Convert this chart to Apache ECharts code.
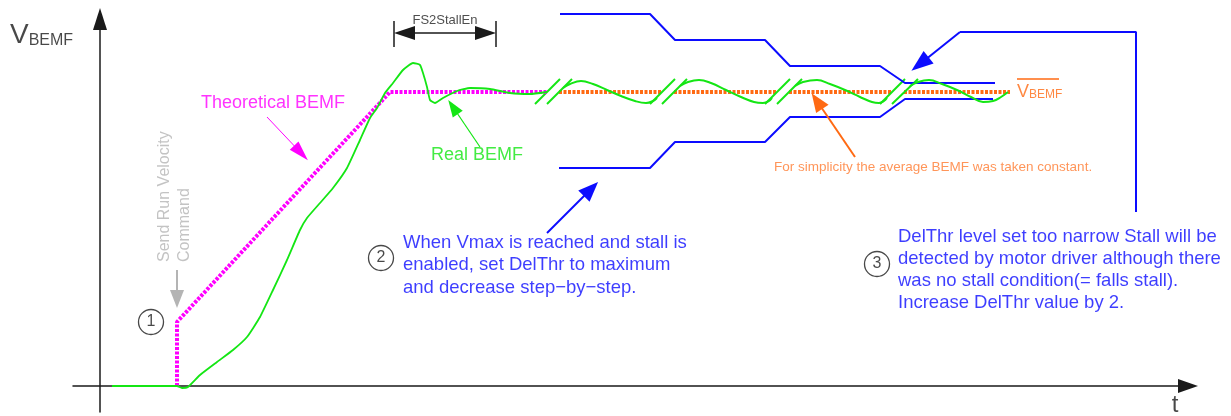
<!DOCTYPE html>
<html>
<head>
<meta charset="utf-8">
<script src="https://cdn.jsdelivr.net/npm/echarts@6/dist/echarts.min.js"></script>
<style>
  html, body { margin: 0; padding: 0; background: #fff; }
  #chart { width: 1231px; height: 416px; }
</style>
</head>
<body>
<div id="chart"></div>
<script>
// all points are [t, V] in diagram units
const realRamp = [[12,0],[77,0],[82,-2],[88,-1],[100,11],[117,24],[133,36],[147,49],[160,69],[173,96],[187,126],[200,156],[207,168],[220,183],[233,198],[247,218],[260,246],[270,268],[277,278],[285,293],[293,303],[303,316],[313,323],[320,321],[323,313],[327,299],[330,286],[335,283],[343,288],[357,295],[370,298],[390,297],[410,293],[430,292],[447,294]];
const waveA = [[463,298],[470,302],[481,305],[493,302],[507,296],[521,290],[535,285],[546,283],[553,285],[557,288]];
const waveB = [[580,300],[588,304],[599,306],[611,303],[626,296],[641,289],[654,284],[663,283],[669,285],[672,288]];
const waveC = [[695,300],[703,304],[717,306],[730,302],[745,296],[760,289],[772,284],[779,283],[784,285],[787,288]];
const waveD = [[810,300],[818,304],[829,306],[842,302],[857,296],[871,289],[883,284],[893,285],[901,289],[908,294]];
const breakMarks = [
  [[435,282],[460,307]], [[447,282],[472,307]],
  [[550,282],[575,307]], [[562,282],[587,307]],
  [[665,282],[690,307]], [[677,282],[702,307]],
  [[780,282],[805,307]], [[792,282],[818,307]]
];
const theoretical = [[77,0],[77,64],[290,294],[447,294]];
const avgBemf = 294;
const avgSpans = [[459,562],[574,677],[689,792],[804,910]];
const upperThr = [[460,372],[550,372],[575,346],[665,346],[690,320],[780,320],[805,303],[895,303]];
const lowerThr = [[459,218],[550,218],[575,244],[665,244],[690,269],[780,269],[805,287],[893,287]];
const narrowCallout = [[1036,174],[1036,354],[860,354]];
const narrowArrow = [[860,354],[820,322]];
const delThrArrow = [[447,153],[491,197]];
const theoArrow = [[167,269],[201,233]];
const realArrow = [[380,239],[353,279]];
const avgArrow = [[755,229],[717,285]];
const cmdArrow = [[77,116],[77,87]];
const stallEnTicks = [[[294,339],[294,365]], [[396,339],[396,365]]];
const stallEnSpan = [[304.5,353],[385.5,353]];
const avgOverline = [[917,307],[959,307]];
const steps = [[51,64,'1'],[281,128,'2'],[777,122,'3']];

const yLabelPos = [-90,351];
const tLabelPos = [1075,-19];
const theoLabelPos = [101,283];
const realLabelPos = [331,231];
const stallEnLabelPos = [345,366];
const cmdLabelPos = [75,124];
const avgNotePos = [674,219];
const avgLabelPos = [917,294];
const note2Pos = [303,121];
const note3Pos = [798,116];

const cmdText = 'Send Run Velocity\nCommand';
const avgNote = 'For simplicity the average BEMF was taken constant.';
const note2 = 'When Vmax is reached and stall is\nenabled, set DelThr to maximum\nand decrease step\u2212by\u2212step.';
const note3 = 'DelThr level set too narrow Stall will be\ndetected by motor driver although there\nwas no stall condition(= falls stall).\nIncrease DelThr value by 2.';

const font = 'Liberation Sans, Arial, sans-serif';
const GREEN = '#14e614', MAGENTA = '#ff00ff', ORANGE = '#ff6a13', BLUE = '#0c0cff', GRAY = '#b4b4b4', INK = '#1a1a1a';

function txt(pos, text, label) {
  return { value: pos, label: Object.assign({ show: true, position: 'inside', formatter: text, fontFamily: font }, label) };
}
function arrowSeries(coords, color, width, size) {
  return {
    type: 'lines', coordinateSystem: 'cartesian2d', clip: false, silent: true, z: 4,
    symbol: ['none', 'triangle'], symbolSize: [size, size],
    lineStyle: { color: color, width: width, opacity: 1, curveness: 0 },
    data: [{ coords: coords }]
  };
}
function curve(data, color, width, smooth, dash) {
  return {
    type: 'line', data: data, symbol: 'none', showSymbol: false, clip: false, silent: true,
    smooth: smooth || false, lineStyle: { color: color, width: width, type: dash || 'solid' }
  };
}

const chart = echarts.init(document.getElementById('chart'));
chart.setOption({
  animation: false,
  grid: { left: 73, right: 43, top: 19, bottom: 4 },
  xAxis: {
    type: 'value', min: -27, max: 1088,
    axisLine: { show: true, onZero: true, symbol: ['none', 'triangle'], symbolSize: [14, 20], lineStyle: { color: INK, width: 1.5 } },
    axisTick: { show: false }, axisLabel: { show: false }, splitLine: { show: false }
  },
  yAxis: {
    type: 'value', min: -26, max: 367,
    axisLine: { show: true, onZero: true, symbol: ['none', 'triangle'], symbolSize: [14, 22], lineStyle: { color: INK, width: 1.5 } },
    axisTick: { show: false }, axisLabel: { show: false }, splitLine: { show: false }
  },
  series: [
    curve(upperThr, BLUE, 2),
    curve(lowerThr, BLUE, 2),
    curve(narrowCallout, BLUE, 2),
    curve(theoretical, MAGENTA, 4, false, [3, 1.5]),
    {
      type: 'lines', coordinateSystem: 'cartesian2d', clip: false, silent: true,
      lineStyle: { color: ORANGE, width: 4, opacity: 1, type: [3, 1.5] },
      data: avgSpans.map(s => ({ coords: [[s[0], avgBemf], [s[1], avgBemf]] }))
    },
    curve(realRamp, GREEN, 1.8, 0.15),
    curve(waveA, GREEN, 2, 0.4),
    curve(waveB, GREEN, 2, 0.4),
    curve(waveC, GREEN, 2, 0.4),
    curve(waveD, GREEN, 2, 0.4),
    {
      type: 'lines', coordinateSystem: 'cartesian2d', clip: false, silent: true,
      lineStyle: { color: GREEN, width: 2, opacity: 1 },
      data: breakMarks.map(c => ({ coords: c }))
    },
    {
      type: 'lines', coordinateSystem: 'cartesian2d', clip: false, silent: true,
      lineStyle: { color: ORANGE, width: 1.5, opacity: 1 },
      data: [{ coords: avgOverline }]
    },
    {
      type: 'lines', coordinateSystem: 'cartesian2d', clip: false, silent: true,
      lineStyle: { color: INK, width: 1.5, opacity: 1 },
      data: stallEnTicks.map(c => ({ coords: c }))
    },
    {
      type: 'lines', coordinateSystem: 'cartesian2d', clip: false, silent: true,
      symbol: ['triangle', 'triangle'], symbolSize: [[14, 21], [14, 21]],
      lineStyle: { color: INK, width: 1.5, opacity: 1 },
      data: [{ coords: stallEnSpan }]
    },
    arrowSeries(narrowArrow, BLUE, 2, [16, 22]),
    arrowSeries(delThrArrow, BLUE, 2, [16, 20]),
    arrowSeries(theoArrow, MAGENTA, 1, [12, 20]),
    arrowSeries(realArrow, GREEN, 1.2, [12, 17]),
    arrowSeries(avgArrow, ORANGE, 2, [15, 19]),
    arrowSeries(cmdArrow, GRAY, 2, [14, 18]),
    {
      type: 'scatter', clip: false, silent: true, z: 6,
      symbol: 'circle', symbolSize: 25,
      itemStyle: { color: '#fff', borderColor: INK, borderWidth: 1.3 },
      label: { show: true, position: 'inside', formatter: p => p.data[2], color: INK, fontSize: 16, fontFamily: font },
      data: steps
    },
    {
      type: 'scatter', clip: false, silent: true, z: 7, symbolSize: 0,
      data: [
        txt(yLabelPos, '{v|V}{s|BEMF}', { align: 'left', rich: {
          v: { fontSize: 28, color: INK, fontFamily: font, verticalAlign: 'bottom' },
          s: { fontSize: 16, color: INK, fontFamily: font, verticalAlign: 'bottom' } } }),
        txt(tLabelPos, 't', { fontSize: 24, color: INK }),
        txt(theoLabelPos, 'Theoretical BEMF', { align: 'left', fontSize: 18, color: MAGENTA }),
        txt(realLabelPos, 'Real BEMF', { align: 'left', fontSize: 18, color: GREEN }),
        txt(stallEnLabelPos, 'FS2StallEn', { fontSize: 13, color: '#222' }),
        txt(cmdLabelPos, cmdText, { align: 'left', rotate: 90, fontSize: 16, lineHeight: 20, color: GRAY }),
        txt(avgNotePos, avgNote, { align: 'left', fontSize: 13.5, color: '#ff7a30' }),
        txt(avgLabelPos, '{v|V}{s|BEMF}', { align: 'left', rich: {
          v: { fontSize: 18, color: ORANGE, fontFamily: font, verticalAlign: 'bottom' },
          s: { fontSize: 12, color: ORANGE, fontFamily: font, verticalAlign: 'bottom' } } }),
        txt(note2Pos, note2, { align: 'left', fontSize: 18.5, lineHeight: 22.5, color: BLUE }),
        txt(note3Pos, note3, { align: 'left', fontSize: 18.5, lineHeight: 22, color: BLUE })
      ]
    }
  ]
});
</script>
</body>
</html>
